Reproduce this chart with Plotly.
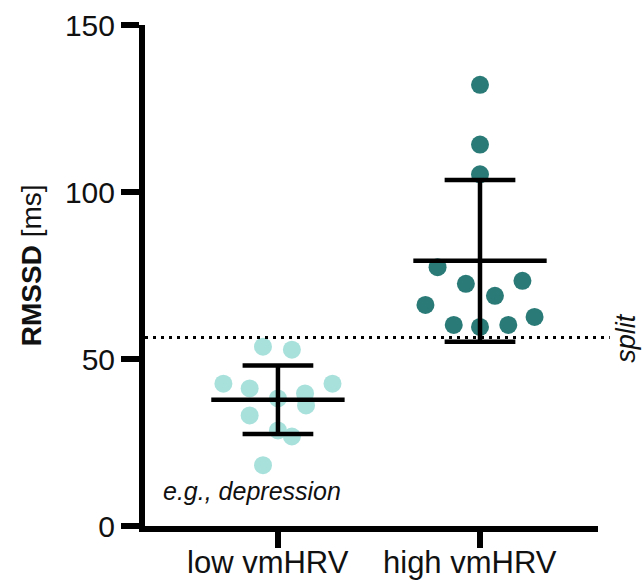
import numpy as np
import plotly.graph_objects as go

# ---- data ----
categories = ["low vmHRV", "high vmHRV"]
cat_pos = [0, 1]

low_values = [53.7, 52.8, 42.6, 41.2, 42.6, 38.2, 39.7, 36.1, 33.1, 28.6, 26.8, 18.2]
low_jitter = [-0.074, 0.069, -0.27, -0.14, 0.27, 0.0, 0.134, 0.139, -0.14, 0.0, 0.069, -0.074]

high_values = [132.1, 114.2, 105.3, 77.5, 72.5, 73.4, 68.9, 66.2, 62.6, 60.2, 59.6, 60.2]
high_jitter = [0.0, 0.0, 0.0, -0.21, -0.07, 0.21, 0.074, -0.27, 0.27, -0.13, 0.0, 0.14]

split_value = 56.4
y_ticks = [0, 50, 100, 150]

FONT = "Liberation Sans, Arial, sans-serif"
LOW_COLOR = "#A8E1DC"
HIGH_COLOR = "#2A7B77"

fig = go.Figure()

groups = [
    (cat_pos[0], low_values, low_jitter, LOW_COLOR),
    (cat_pos[1], high_values, high_jitter, HIGH_COLOR),
]

# points
for pos, vals, jit, col in groups:
    fig.add_trace(go.Scatter(
        x=[pos + j for j in jit], y=vals, mode="markers",
        marker=dict(size=18, color=col, line=dict(width=0)),
        showlegend=False, hoverinfo="y",
    ))

# mean +/- SD bars
MEAN_HALF = 0.33
CAP_HALF = 0.175
for pos, vals, jit, col in groups:
    m = float(np.mean(vals))
    s = float(np.std(vals, ddof=1))
    xs = [pos - MEAN_HALF, pos + MEAN_HALF, None,
          pos, pos, None,
          pos - CAP_HALF, pos + CAP_HALF, None,
          pos - CAP_HALF, pos + CAP_HALF]
    ys = [m, m, None,
          m - s, m + s, None,
          m + s, m + s, None,
          m - s, m - s]
    fig.add_trace(go.Scatter(
        x=xs, y=ys, mode="lines",
        line=dict(color="black", width=4.5),
        showlegend=False, hoverinfo="skip",
    ))

# split line
fig.add_shape(type="line", xref="paper", yref="y",
              x0=0.0, x1=1.026, y0=split_value, y1=split_value,
              line=dict(color="black", width=3, dash="3px,5px"))

fig.add_annotation(xref="paper", yref="y", x=1.06, y=split_value,
                   text="<i>split</i>", textangle=-90, showarrow=False,
                   font=dict(family=FONT, size=27, color="#111"),
                   xanchor="center", yanchor="middle")

fig.add_annotation(xref="x", yref="y", x=-0.13, y=10.4,
                   text="<i>e.g., depression</i>", showarrow=False,
                   font=dict(family=FONT, size=25, color="#111"),
                   xanchor="center", yanchor="middle")

fig.add_annotation(xref="paper", yref="paper", x=-0.25, y=0.52,
                   text="<b>RMSSD</b> [ms]", textangle=-90, showarrow=False,
                   font=dict(family=FONT, size=28, color="#111"),
                   xanchor="center", yanchor="middle")

# category labels under the axis ticks
for pos, lab in zip(cat_pos, categories):
    fig.add_annotation(xref="x", yref="paper", x=pos, y=0,
                       xshift=-10, yshift=-17,
                       text=lab, showarrow=False,
                       font=dict(family=FONT, size=31, color="#111"),
                       xanchor="center", yanchor="top")

fig.update_layout(
    width=642, height=587,
    margin=dict(l=145, r=44, t=25, b=61, autoexpand=False),
    paper_bgcolor="white", plot_bgcolor="white",
    font=dict(family=FONT, color="#111"),
)

fig.update_xaxes(
    range=[-0.658, 1.584],
    tickmode="array", tickvals=cat_pos, ticktext=categories,
    showticklabels=False,
    showline=True, linewidth=6, linecolor="black",
    ticks="outside", ticklen=16, tickwidth=6, tickcolor="black",
    showgrid=False, zeroline=False, automargin=False,
)
fig.update_yaxes(
    range=[0, 150],
    tickmode="array", tickvals=y_ticks,
    showline=True, linewidth=6, linecolor="black",
    ticks="outside", ticklen=18, tickwidth=6, tickcolor="black",
    tickfont=dict(family=FONT, size=30, color="#111"),
    showgrid=False, zeroline=False, automargin=False,
)

fig.write_html("out.html")
